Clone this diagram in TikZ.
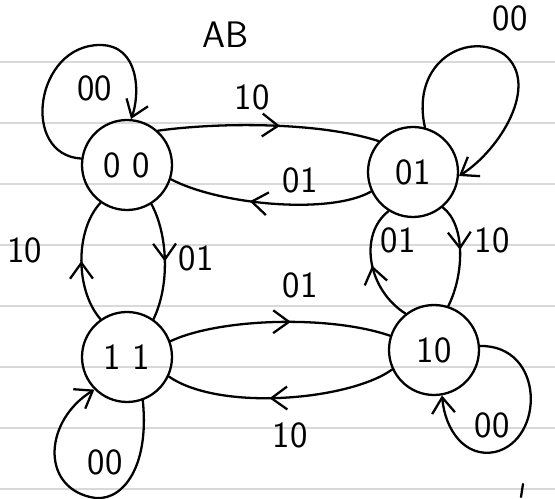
\documentclass[tikz,border=0pt]{standalone}
\usetikzlibrary{arrows.meta,decorations.markings}
\tikzset{
  handtip/.tip={Straight Barb[length=9pt,width=13pt]},
}
\begin{document}
\begin{tikzpicture}[x=0.02cm,y=-0.02cm,
  ink/.style={line width=1.3pt,line cap=round,line join=round},
  state/.style={circle,draw,ink,minimum size=1.8cm,inner sep=0pt,
    font=\sffamily\fontsize{21}{25}\selectfont},
  lbl/.style={font=\sffamily\fontsize{21}{25}\selectfont,inner sep=1pt},
  midarrow/.style={postaction={decorate,decoration={markings,
    mark=at position #1 with {\arrow{handtip}}}}},
  midarrow/.default=0.5,
  ruled/.style={black!15,line width=0.6pt}]
% paper and its ruled lines
\fill[white] (0,0) rectangle (555,499);
\useasboundingbox (0,0) rectangle (555,499);
\foreach \y in {62,123,184,245,306,367,428,489}
  \draw[ruled] (0,\y) -- (555,\y);

% states
\node[state] (s00) at (127,165) {0 0};
\node[state] (s01) at (413,172) {01};
\node[state] (s11) at (127,357) {1 1};
\node[state] (s10) at (434,350) {10};

\node[lbl] (title) at (226,35) {AB};

% transitions between the two upper states
\draw[ink,midarrow=0.55] (s00.48) .. controls (220,122) and (320,122) .. (s01.138);
\node[lbl] (t1) at (252,97) {10};
\draw[ink,midarrow=0.6] (s01.205) .. controls (330,215) and (220,205) .. (s00.-18);
\node[lbl] (t2) at (300,180) {01};

% left column
\draw[ink,midarrow=0.5] (s11.125) .. controls (75,290) and (75,230) .. (s00.235);
\node[lbl] (t3) at (25,250) {10};
\draw[ink,midarrow=0.5] (s00.-58) .. controls (168,235) and (170,285) .. (s11.55);
\node[lbl] (t4) at (196,258) {01};

% right column
\draw[ink,midarrow=0.5] (s10.128) .. controls (368,290) and (358,235) .. (s01.238);
\node[lbl] (t5) at (398,240) {01};
\draw[ink,midarrow=0.45] (s01.-50) .. controls (466,225) and (464,275) .. (s10.72);
\node[lbl] (t6) at (492,240) {10};

% transitions between the two lower states
\draw[ink,midarrow=0.55] (s11.20) .. controls (220,318) and (330,315) .. (s10.162);
\node[lbl] (t7) at (300,285) {01};
\draw[ink,midarrow=0.55] (s10.205) .. controls (350,400) and (220,412) .. (s11.-25);
\node[lbl] (t8) at (290,435) {10};

% self loops
\draw[ink,-{handtip}] (s00.172) .. controls (20,155) and (35,45) .. (100,45)
  .. controls (140,45) and (140,95) .. (s00.85);
\node[lbl] (l1) at (95,88) {00};
\draw[ink,-{handtip}] (s01.75) .. controls (410,60) and (470,30) .. (505,55)
  .. controls (540,85) and (500,150) .. (s01.-5);
\node[lbl] (l2) at (510,18) {00};
\draw[ink,-{handtip}] (s11.-70) .. controls (150,470) and (120,505) .. (90,497)
  .. controls (40,485) and (45,420) .. (s11.225);
\node[lbl] (l3) at (105,462) {00};
\draw[ink,-{handtip}] (s10.5) .. controls (545,345) and (545,440) .. (495,452)
  .. controls (465,458) and (445,430) .. (s10.280);
\node[lbl] (l4) at (492,425) {00};

% stray pen stroke at the foot of the page
\draw[ink] (523,484) -- (521,497);
\end{tikzpicture}
\end{document}
